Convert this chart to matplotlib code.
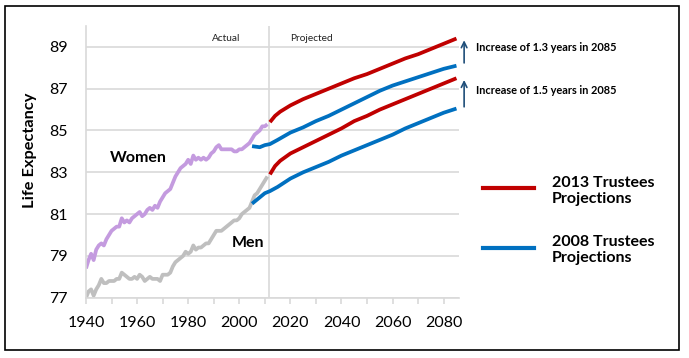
import matplotlib.pyplot as plt
from matplotlib.lines import Line2D
from matplotlib.patches import Rectangle

plt.rcParams['font.family'] = ['Lato', 'DejaVu Sans']

# actual data, 1940-2011
years_actual = list(range(1940, 2012))
women_actual = [78.4, 78.8, 79.1, 78.8, 79.3, 79.5, 79.6, 79.5, 79.8, 80.0,
                80.2, 80.3, 80.4, 80.4, 80.8, 80.6, 80.7, 80.6, 80.8, 80.9,
                81.0, 81.1, 80.9, 81.0, 81.2, 81.3, 81.2, 81.4, 81.3, 81.6,
                81.8, 82.0, 82.1, 82.2, 82.5, 82.8, 83.0, 83.2, 83.3, 83.4,
                83.6, 83.4, 83.8, 83.6, 83.7, 83.6, 83.7, 83.6, 83.7, 83.9,
                84.0, 84.2, 84.3, 84.1, 84.1, 84.1, 84.1, 84.1, 84.0, 84.0,
                84.1, 84.1, 84.2, 84.3, 84.4, 84.6, 84.8, 84.9, 85.0, 85.2,
                85.2, 85.3]
men_actual = [77.0, 77.3, 77.4, 77.1, 77.4, 77.6, 77.9, 77.7, 77.7, 77.8,
              77.8, 77.8, 77.9, 77.9, 78.2, 78.1, 78.0, 77.9, 77.9, 78.0,
              77.9, 78.1, 78.0, 77.8, 77.9, 78.0, 77.9, 77.9, 77.9, 77.8,
              78.1, 78.1, 78.1, 78.2, 78.5, 78.7, 78.8, 78.9, 79.0, 79.2,
              79.1, 79.2, 79.5, 79.3, 79.4, 79.4, 79.5, 79.6, 79.6, 79.8,
              80.0, 80.2, 80.2, 80.2, 80.3, 80.4, 80.5, 80.6, 80.7, 80.7,
              80.8, 81.0, 81.1, 81.2, 81.3, 81.6, 81.9, 82.0, 82.2, 82.4,
              82.6, 82.8]

# 2013 Trustees projections
years_2013 = [2012, 2014, 2016, 2020, 2025, 2030, 2035, 2040, 2045, 2050,
              2055, 2060, 2065, 2070, 2075, 2080, 2085]
women_2013 = [85.4, 85.7, 85.9, 86.2, 86.5, 86.75, 87.0, 87.25, 87.5, 87.7,
              87.95, 88.2, 88.45, 88.65, 88.9, 89.15, 89.4]
men_2013 = [82.9, 83.3, 83.55, 83.9, 84.2, 84.5, 84.8, 85.1, 85.45, 85.7,
            86.0, 86.25, 86.5, 86.75, 87.0, 87.25, 87.5]

# 2008 Trustees projections
years_2008 = [2005, 2008, 2010, 2012, 2015, 2020, 2025, 2030, 2035, 2040,
              2045, 2050, 2055, 2060, 2065, 2070, 2075, 2080, 2085]
women_2008 = [84.25, 84.2, 84.3, 84.35, 84.55, 84.9, 85.15, 85.45, 85.7, 86.0,
              86.3, 86.6, 86.9, 87.15, 87.35, 87.55, 87.75, 87.95, 88.1]
men_2008 = [81.5, 81.8, 82.0, 82.1, 82.3, 82.7, 83.0, 83.25, 83.5, 83.8,
            84.05, 84.3, 84.55, 84.8, 85.1, 85.35, 85.6, 85.85, 86.05]

red = '#C00000'
blue = '#0070C0'
purple = '#C49BDF'
grey = '#BFBFBF'
grid_c = '#D9D9D9'
lw = 2.7

fig = plt.figure(figsize=(6.89, 3.58), dpi=100)
ax = fig.add_axes([0.1248, 0.1684, 0.5414, 0.759])

ax.plot(years_actual, women_actual, color=purple, lw=lw, solid_capstyle='butt')
ax.plot(years_actual, men_actual, color=grey, lw=lw, solid_capstyle='butt')
ax.plot(years_2008, women_2008, color=blue, lw=lw, solid_capstyle='butt')
ax.plot(years_2008, men_2008, color=blue, lw=lw, solid_capstyle='butt')
ax.plot(years_2013, women_2013, color=red, lw=lw, solid_capstyle='butt')
ax.plot(years_2013, men_2013, color=red, lw=lw, solid_capstyle='butt')

ax.axvline(2011.5, color=grid_c, lw=1.2, zorder=0)

ax.set_xlim(1940, 2086)
ax.set_ylim(77, 90)
ax.set_yticks(range(77, 90, 2))
ax.set_xticks(range(1940, 2081, 20))
ax.set_xticks(range(1940, 2081, 10), minor=True)
ax.yaxis.grid(True, color=grid_c, lw=1.2)
ax.set_axisbelow(True)

for s in ['top', 'right']:
    ax.spines[s].set_visible(False)
ax.spines['left'].set_color(grid_c)
ax.spines['bottom'].set_color(grid_c)
ax.spines['left'].set_linewidth(1.2)
ax.spines['bottom'].set_linewidth(1.2)
ax.tick_params(axis='y', length=0, pad=13, labelsize=11.5, labelcolor='#000000')
ax.tick_params(axis='x', which='both', direction='out', length=4, color=grid_c,
               width=1.2, pad=9, labelsize=11.5)

ax.text(1995, 89.4, 'Actual', fontsize=7.3, ha='center', va='center', color='#222222')
ax.text(2028.3, 89.4, 'Projected', fontsize=7.3, ha='center', va='center', color='#222222')
ax.text(1960.3, 83.7, 'Women', fontsize=11.5, fontweight='bold', ha='center', va='center')
ax.text(2003.3, 79.6, 'Men', fontsize=11.5, fontweight='bold', ha='center', va='center')

# increase arrows
arrow_c = '#1F4E79'
ax.annotate('', xy=(2088, women_2013[-1] + 0.05), xytext=(2088, women_2008[-1]),
            arrowprops=dict(arrowstyle='->', color=arrow_c, lw=1.2), annotation_clip=False)
ax.annotate('', xy=(2088, men_2013[-1] + 0.05), xytext=(2088, men_2008[-1] - 0.05),
            arrowprops=dict(arrowstyle='->', color=arrow_c, lw=1.2), annotation_clip=False)
ax.text(2092.7, 88.95, 'Increase of 1.3 years in 2085', fontsize=7.9, fontweight='bold',
        ha='left', va='center', clip_on=False)
ax.text(2092.7, 86.9, 'Increase of 1.5 years in 2085', fontsize=7.9, fontweight='bold',
        ha='left', va='center', clip_on=False)

fig.text(30 / 689, 1 - 150 / 358, 'Life Expectancy', rotation=90, fontsize=11.8,
         fontweight='bold', ha='center', va='center')

# legend drawn by hand
W, H = 689, 358
for yy, col, lab, ty in [(188, red, '2013 Trustees\nProjections', 191),
                         (248, blue, '2008 Trustees\nProjections', 250)]:
    fig.add_artist(Line2D([483 / W, 534 / W], [1 - yy / H, 1 - yy / H],
                          color=col, lw=3, transform=fig.transFigure))
    fig.text(552 / W, 1 - ty / H, lab, fontsize=11.5, fontweight='bold',
             ha='left', va='center', linespacing=1.25)

fig.add_artist(Rectangle((5 / W, 1 - 350 / H), 674 / W, 344 / H, fill=False,
                         edgecolor='black', lw=1.2, transform=fig.transFigure))

fig.savefig('out.png', dpi=100)
